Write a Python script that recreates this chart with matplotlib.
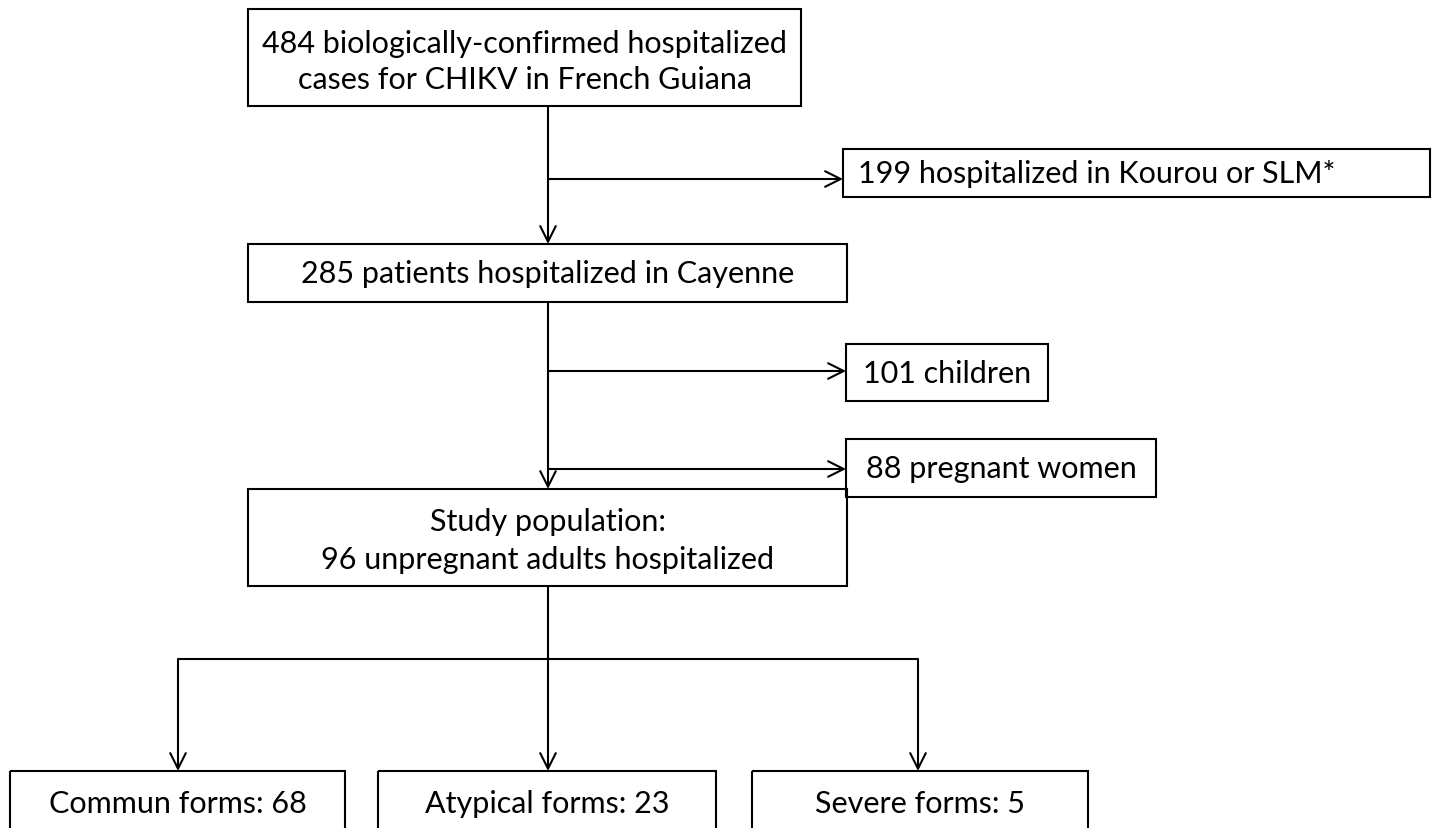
import matplotlib
matplotlib.use("Agg")
import matplotlib.pyplot as plt
from matplotlib.patches import Rectangle

# Box texts
top_text = "484 biologically-confirmed hospitalized\ncases for CHIKV in French Guiana"
excl1_text = "199 hospitalized in Kourou or SLM*"
cayenne_text = "285 patients hospitalized in Cayenne"
excl2_text = "101 children"
excl3_text = "88 pregnant women"
study_text = "Study population:\n96 unpregnant adults hospitalized"
form_labels = ["Commun forms", "Atypical forms", "Severe forms"]
form_counts = [68, 23, 5]

W, H = 1434, 829
fig = plt.figure(figsize=(W / 100, H / 100), dpi=100)
ax = fig.add_axes([0, 0, 1, 1])
ax.set_xlim(0, W)
ax.set_ylim(H, 0)
ax.axis("off")

FONT = "Lato"
FS = 22
LW = 1.5


def box(x0, y0, x1, y1, text, ty=None, ls=1.38, align="center", tx=None):
    ax.add_patch(Rectangle((x0, y0), x1 - x0, y1 - y0, fill=False, lw=LW, ec="black"))
    cy = (y0 + y1) / 2 if ty is None else ty
    cx = (x0 + x1) / 2 if tx is None else tx
    ax.text(cx, cy, text, ha=align, va="center", fontsize=FS,
            family=FONT, linespacing=ls, color="black")


def arrow(x0, y0, x1, y1):
    ax.annotate("", xy=(x1, y1), xytext=(x0, y0),
                arrowprops=dict(arrowstyle="->", lw=LW, color="black",
                                mutation_scale=28, shrinkA=0, shrinkB=0))


def line(xs, ys):
    ax.plot(xs, ys, color="black", lw=LW, solid_capstyle="butt")


box(248, 10, 801, 107, top_text, ty=62)
box(843, 150, 1430, 198, excl1_text, align="left", tx=858)
box(248, 245, 847, 303, cayenne_text)
box(846, 345, 1048, 402, excl2_text)
box(846, 440, 1156, 498, excl3_text)
box(248, 490, 847, 587, study_text, ty=541, ls=1.45)

cx = 548
arrow(cx, 107, cx, 245)
arrow(cx, 180, 843, 180)
arrow(cx, 303, cx, 490)
arrow(cx, 372, 846, 372)
arrow(cx, 470, 846, 470)

line([cx, cx], [587, 660])
form_x = [178, 548, 918]
line([form_x[0], form_x[-1]], [660, 660])
bottoms = [(10, 345), (378, 716), (752, 1088)]
for fx, (bx0, bx1), lab, cnt in zip(form_x, bottoms, form_labels, form_counts):
    arrow(fx, 660, fx, 772)
    ax.add_patch(Rectangle((bx0, 772), bx1 - bx0, 120, fill=False, lw=LW, ec="black", clip_on=True))
    ax.text((bx0 + bx1) / 2, 804, f"{lab}: {cnt}", ha="center", va="center",
            fontsize=FS, family=FONT, color="black")

fig.savefig("out.png", dpi=100)
